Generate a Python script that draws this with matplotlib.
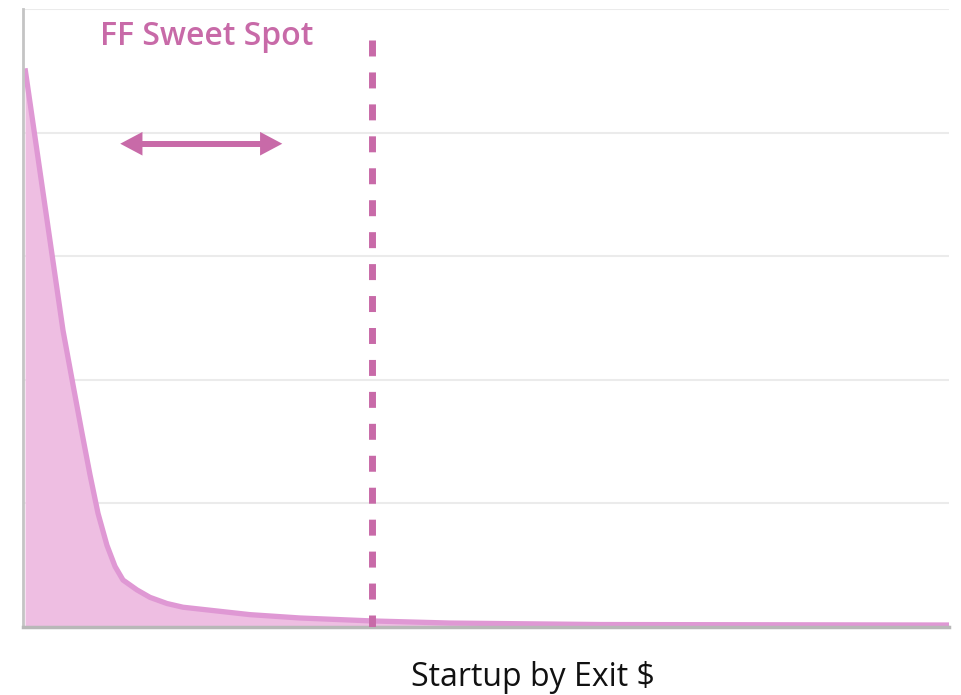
import matplotlib
matplotlib.use("Agg")
import matplotlib.pyplot as plt
from matplotlib.patches import FancyArrowPatch

# Data (x in % of axis width, y in gridline units)
exit_x = [0.22, 4.32, 5.40, 6.37, 7.24, 8.10, 9.07, 9.94, 10.80, 12.31, 13.71,
          15.55, 17.28, 24.51, 29.91, 37.69, 46.11, 62.31, 100.0]
count_y = [4.52, 2.40, 1.96, 1.57, 1.23, 0.92, 0.66, 0.49, 0.38, 0.30, 0.24,
           0.19, 0.16, 0.10, 0.073, 0.049, 0.032, 0.020, 0.016]
title_text = "FF Sweet Spot"
xlabel_text = "Startup by Exit $"
sweet_lo, sweet_hi, sweet_y = 10.5, 28.0, 3.91
cutoff_x, cutoff_top = 37.7, 4.75
grid_levels = [1, 2, 3, 4, 5]

pink = "#c86aa8"
fill_c = "#eebee2"
line_c = "#df98d4"

fig = plt.figure(figsize=(9.61, 6.95), dpi=100)
ax = fig.add_axes([23/961, 68/695, 926/961, 618/695])
ax.set_xlim(0, 100)
ax.set_ylim(0, 5)

for g in grid_levels:
    ax.axhline(g, color="#ebebeb", lw=1.5, zorder=0)

ax.fill_between(exit_x, count_y, 0, color=fill_c, lw=0, zorder=1)
ax.plot(exit_x, count_y, color=line_c, lw=3.8, solid_capstyle="butt",
        solid_joinstyle="round", zorder=2)

ax.plot([cutoff_x, cutoff_x], [cutoff_top, 0], color=pink, lw=5,
        dashes=(2.3, 2.3), zorder=3)

# arrow shaft + heads
ax.plot([sweet_lo + 1.5, sweet_hi - 1.5], [sweet_y, sweet_y], color=pink,
        lw=4.3, solid_capstyle="butt", zorder=4)
arr = FancyArrowPatch((sweet_lo, sweet_y), (sweet_hi, sweet_y),
                      arrowstyle="<|-|>,head_length=1.6,head_width=0.85",
                      mutation_scale=10, color=pink, lw=0,
                      shrinkA=0, shrinkB=0, zorder=4)
ax.add_patch(arr)

ax.text(19.8, 4.78, title_text, color=pink, fontsize=23, fontweight="semibold",
        family="Open Sans", ha="center", va="center")

for s in ["top", "right"]:
    ax.spines[s].set_visible(False)
ax.spines["left"].set_color("#c4c4c4")
ax.spines["left"].set_linewidth(2)
ax.spines["bottom"].set_color("#b8b8b8")
ax.spines["bottom"].set_linewidth(2.5)
ax.set_xticks([])
ax.set_yticks([])

fig.text(533/961, 1 - 678/695, xlabel_text, fontsize=23, family="Open Sans",
         ha="center", va="center", color="#111111")

fig.savefig("out.png", dpi=100)
